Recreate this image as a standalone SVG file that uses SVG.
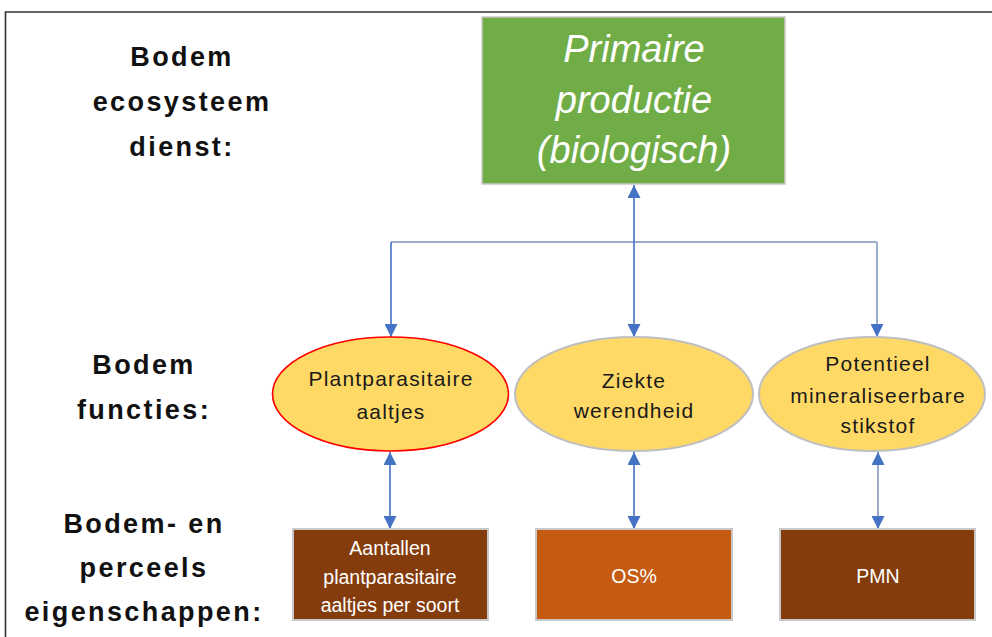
<svg xmlns="http://www.w3.org/2000/svg" width="992" height="637" viewBox="0 0 992 637">
<defs>
<style>
.lbl{font-family:"Liberation Sans",Arial,sans-serif;font-weight:bold;font-size:27px;letter-spacing:2.4px;fill:#111;text-anchor:middle}
.ttl{font-family:"Liberation Sans",Arial,sans-serif;font-style:italic;font-size:38px;fill:#fff;text-anchor:middle}
.et{font-family:"Liberation Sans",Arial,sans-serif;font-size:21px;letter-spacing:1.2px;fill:#1a1a1a;text-anchor:middle}
.bt{font-family:"Liberation Sans",Arial,sans-serif;font-size:19.5px;fill:#fff;text-anchor:middle}
.ell{fill:#FFD966;stroke:#BFBFBF;stroke-width:2}
.box{stroke:#C9C9C9;stroke-width:2}
.c{fill:none;stroke:#4472C4;stroke-width:1.6}
.cl{fill:none;stroke:#9AABD0;stroke-width:2}
</style>
<marker id="ah" viewBox="0 0 13 13" refX="13" refY="6.5" markerWidth="13" markerHeight="13" markerUnits="userSpaceOnUse" orient="auto-start-reverse">
<path d="M0,0 L13,6.5 L0,13 Z" fill="#4472C4"/>
</marker>
</defs>
<rect width="992" height="637" fill="#fff"/>
<path d="M5.5,637 V12 H992" fill="none" stroke="#333" stroke-width="1.6"/>

<g id="labels">
<text class="lbl" x="182" y="66">Bodem</text>
<text class="lbl" x="182" y="111">ecosysteem</text>
<text class="lbl" x="182" y="156">dienst:</text>
<text class="lbl" x="144" y="374">Bodem</text>
<text class="lbl" x="144" y="419">functies:</text>
<text class="lbl" x="144" y="533">Bodem- en</text>
<text class="lbl" x="144" y="577">perceels</text>
<text class="lbl" x="144" y="621">eigenschappen:</text>
</g>

<g id="connectors">
<path class="cl" d="M391,242 H877"/>
<path class="c" d="M391,242 V337" marker-end="url(#ah)"/>
<path class="cl" d="M877,242 V337" marker-end="url(#ah)"/>
<path class="c" d="M634,337 V185" marker-start="url(#ah)" marker-end="url(#ah)"/>
<path class="c" d="M390,452 V529" marker-start="url(#ah)" marker-end="url(#ah)"/>
<path class="c" d="M634,452 V529" marker-start="url(#ah)" marker-end="url(#ah)"/>
<path class="cl" d="M878,452 V529" marker-start="url(#ah)" marker-end="url(#ah)"/>
</g>

<g id="primaire">
<rect x="482" y="17" width="303" height="167" fill="#70AD47" stroke="#C8C8C8" stroke-width="1.5"/>
<text class="ttl" x="634" y="62">Primaire</text>
<text class="ttl" x="634" y="113">productie</text>
<text class="ttl" x="634" y="163">(biologisch)</text>
</g>

<g id="plantparasitaire">
<ellipse cx="390.5" cy="394" rx="118" ry="57" fill="#FFD966" stroke="#FF0000" stroke-width="1.6"/>
<text class="et" x="391" y="386">Plantparasitaire</text>
<text class="et" x="391" y="419">aaltjes</text>
</g>

<g id="ziekte">
<ellipse class="ell" cx="634" cy="394" rx="119" ry="57"/>
<text class="et" x="634" y="388">Ziekte</text>
<text class="et" x="634" y="418">werendheid</text>
</g>

<g id="pmn-functie">
<ellipse class="ell" cx="872" cy="394" rx="113" ry="57"/>
<text class="et" x="878" y="371">Potentieel</text>
<text class="et" x="878" y="403">mineraliseerbare</text>
<text class="et" x="878" y="433">stikstof</text>
</g>

<g id="aantallen">
<rect class="box" x="293" y="529" width="195" height="91" fill="#843C0C"/>
<text class="bt" x="390" y="555">Aantallen</text>
<text class="bt" x="390" y="584">plantparasitaire</text>
<text class="bt" x="390" y="612">aaltjes per soort</text>
</g>

<g id="os">
<rect class="box" x="536" y="529" width="196" height="91" fill="#C55A11"/>
<text class="bt" x="634" y="583">OS%</text>
</g>

<g id="pmn">
<rect class="box" x="780" y="529" width="195" height="91" fill="#843C0C"/>
<text class="bt" x="878" y="583">PMN</text>
</g>
</svg>
